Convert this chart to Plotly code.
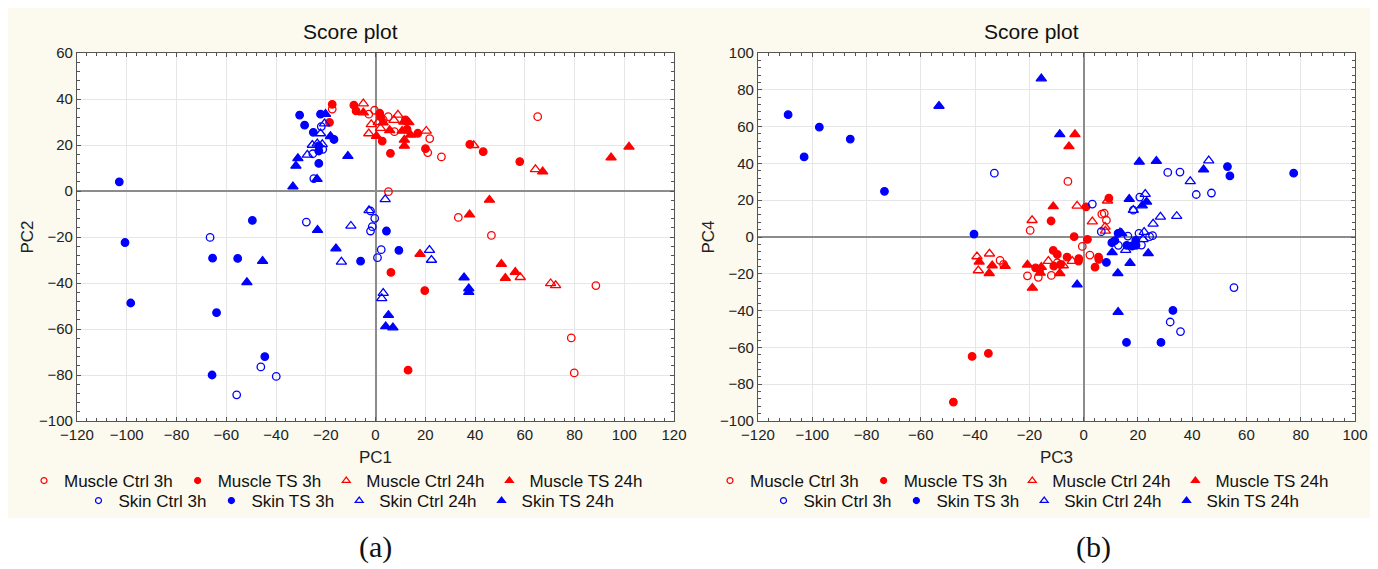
import plotly.graph_objects as go

# The page body has an 8 px default margin, so the figure is drawn 8 px smaller
# and every reference pixel position is shifted by OFF.
OFF = 8
W, H = 1378 - OFF, 569 - OFF

def px(x):
    return (x - OFF) / W

def py(y):
    return 1 - (y - OFF) / H

groups = ["Muscle Ctrl 3h", "Muscle TS 3h", "Muscle Ctrl 24h", "Muscle TS 24h",
          "Skin Ctrl 3h", "Skin TS 3h", "Skin Ctrl 24h", "Skin TS 24h"]

# ---------------- Panel (a): PC1 vs PC2 ----------------
a_muscle_ctrl_3h_x = [5.2, 33.3, 46.6, 88.6, 78.7, 79.9, 65.2, 26.5, 21.8, 21.0, -0.4, 3.1, 5.1, 7.6, -17.4, -2.7]
a_muscle_ctrl_3h_y = [-0.3, -11.5, -19.3, -41.1, -63.9, -79.1, 32.3, 14.8, 22.8, 16.7, 35.1, 30.9, 32.3, 25.8, 35.6, 33.4]

a_muscle_ts_3h_x = [-17.4, -18.5, -8.7, -7.8, 1.7, 2.0, 12.0, 12.7, 17.0, 2.7, 6.0, 20.1, 37.9, 43.3, 58.0, 6.2, 19.8, 13.1]
a_muscle_ts_3h_y = [37.7, 29.8, 37.3, 34.8, 33.8, 32.3, 30.9, 26.8, 25.1, 21.7, 16.4, 18.4, 20.3, 17.1, 12.8, -35.4, -43.3, -77.9]

a_muscle_ctrl_24h_x = [-4.9, -1.7, -2.7, 1.1, 2.0, 7.4, 9.0, 20.4, 39.5, 64.3, 58.2, 70.4, 72.4]
a_muscle_ctrl_24h_y = [38.0, 29.0, 25.0, 29.9, 27.3, 30.8, 33.1, 26.1, 19.9, 9.4, -37.5, -40.2, -41.0]

a_muscle_ts_24h_x = [-4.9, 3.1, 5.7, 11.4, 13.4, 10.7, 14.1, 11.6, 11.6, 0.4, 67.2, 94.7, 101.9, 45.8, 37.8, 17.9, 50.6, 52.2, 56.2]
a_muscle_ts_24h_y = [34.1, 29.7, 26.4, 30.1, 29.8, 26.1, 24.4, 22.2, 19.6, 23.9, 8.4, 14.5, 19.2, -3.9, -10.3, -27.4, -31.8, -37.9, -35.3]

a_skin_ctrl_3h_x = [-66.5, -46.1, -39.9, -55.8, -27.8, -2.0, -0.3, -1.3, -2.0, 2.3, 0.8, -21.8, -25.2, -24.8, -21.2]
a_skin_ctrl_3h_y = [-20.2, -76.5, -80.6, -88.6, -13.5, -8.7, -11.9, -15.5, -17.4, -25.5, -29.0, 28.0, 16.2, 5.4, 18.1]

a_skin_ts_3h_x = [-103.0, -49.5, -100.7, -65.5, -55.4, -98.4, -63.9, -44.5, -65.7, -6.0, 4.4, 9.4, -30.5, -28.5, -25.0, -22.1, -16.7, -22.8, -22.8, -22.8]
a_skin_ts_3h_y = [4.0, -12.8, -22.4, -29.2, -29.3, -48.7, -52.9, -72.0, -80.0, -30.5, -17.4, -25.8, 33.0, 28.6, 25.5, 33.4, 22.4, 19.6, 17.4, 12.0]

a_skin_ctrl_24h_x = [-13.7, -9.9, -2.6, 3.9, 21.7, 22.5, 3.1, 2.5, -20.5, -22.1, -25.4, -27.4, -23.4, -21.4]
a_skin_ctrl_24h_y = [-30.8, -15.2, -8.4, -3.6, -25.7, -30.0, -44.4, -46.7, 29.3, 25.0, 20.0, 15.7, 20.6, 20.3]

a_skin_ts_24h_x = [-33.2, -32.0, -31.2, -23.3, -15.9, -45.4, -51.7, 35.6, 37.5, 37.5, 5.2, 4.1, 7.0, -20.1, -18.1, -11.1, -23.5]
a_skin_ts_24h_y = [1.9, 10.9, 14.2, -17.0, -25.0, -30.5, -39.7, -37.6, -42.4, -44.0, -54.0, -58.9, -59.4, 33.4, 23.8, 15.2, 5.2]

# ---------------- Panel (b): PC3 vs PC4 ----------------
b_muscle_ctrl_3h_x = [-5.8, -19.7, 6.7, 7.6, 8.4, -0.5, 2.3, -30.8, -29.5, -20.7, -16.7, -11.9, -9.7]
b_muscle_ctrl_3h_y = [30.2, 3.6, 12.4, 12.9, 9.1, -5.1, -9.8, -12.7, -14.9, -21.1, -21.9, -20.9, -14.0]

b_muscle_ts_3h_x = [-12.0, 0.9, 9.3, -3.5, 1.4, 5.5, 5.6, 4.2, -17.7, -16.2, -11.2, -9.7, -6.1, -1.8, -1.9, -8.5, -11.0, -41.1, -35.1, -48.0]
b_muscle_ts_3h_y = [8.7, 16.4, 21.1, 0.2, -1.3, -10.9, -12.2, -16.4, -16.8, -17.8, -7.3, -9.5, -10.9, -11.7, -13.1, -14.9, -15.8, -64.9, -63.3, -89.7]

b_muscle_ctrl_24h_x = [-2.4, 8.8, -19.0, 3.2, 7.9, 8.0, -39.3, -34.7, -38.8, -13.0, -4.2, -7.5]
b_muscle_ctrl_24h_y = [16.9, 19.7, 9.1, 8.4, 5.5, 3.3, -10.6, -9.1, -18.2, -13.1, -13.1, -15.5]

b_muscle_ts_24h_x = [-3.2, -5.4, -11.2, -38.5, -33.7, -34.8, -28.9, -20.7, -18.9, -15.6, -8.8, -16.0]
b_muscle_ts_24h_y = [55.8, 49.2, 16.6, -13.5, -15.5, -19.7, -15.8, -15.1, -27.7, -16.4, -19.7, -19.5]

b_skin_ctrl_3h_x = [-32.9, 3.2, 31.0, 35.5, 41.5, 47.1, 55.4, 31.9, 35.7, 20.7, 18.3, 6.5, 16.3, 20.4, 12.8, 21.3, 24.3, 25.4]
b_skin_ctrl_3h_y = [34.7, 17.9, 35.1, 35.3, 23.1, 23.9, -27.5, -46.2, -51.4, 21.7, 14.6, 2.9, 0.5, 2.0, -4.5, -4.4, 0.2, 0.7]

b_skin_ts_3h_x = [-108.9, -97.4, -86.0, -103.0, -73.4, -40.4, 53.0, 53.9, 77.4, 32.9, 15.8, 28.5, 8.4, 12.7, 10.4, 15.9, 19.2, 19.3, 17.8, 11.5]
b_skin_ts_3h_y = [66.5, 59.7, 53.2, 43.5, 24.8, 1.6, 38.3, 33.2, 34.7, -39.9, -57.3, -57.3, -13.8, 2.0, -3.1, -4.5, -1.8, -4.5, -4.9, -2.0]

b_skin_ctrl_24h_x = [46.1, 39.3, 22.7, 18.3, 28.3, 34.3, 25.6, 13.4, 22.3, 15.5, 21.9]
b_skin_ctrl_24h_y = [41.5, 30.2, 23.3, 14.6, 10.9, 11.3, 7.1, 2.4, 2.7, -7.1, -1.3]

b_skin_ts_24h_x = [-53.3, -15.6, -8.8, 20.5, 26.8, 44.2, 16.8, 23.2, 21.6, 10.5, 17.1, 23.8, 12.6, -2.4, 12.7, 14.0]
b_skin_ts_24h_y = [71.2, 86.1, 55.8, 40.8, 41.2, 36.6, 20.6, 19.1, 17.1, -8.4, -14.2, -8.9, -19.7, -25.9, -40.8, 2.0]

panel_a = [
    (a_muscle_ctrl_3h_x, a_muscle_ctrl_3h_y), (a_muscle_ts_3h_x, a_muscle_ts_3h_y),
    (a_muscle_ctrl_24h_x, a_muscle_ctrl_24h_y), (a_muscle_ts_24h_x, a_muscle_ts_24h_y),
    (a_skin_ctrl_3h_x, a_skin_ctrl_3h_y), (a_skin_ts_3h_x, a_skin_ts_3h_y),
    (a_skin_ctrl_24h_x, a_skin_ctrl_24h_y), (a_skin_ts_24h_x, a_skin_ts_24h_y),
]
panel_b = [
    (b_muscle_ctrl_3h_x, b_muscle_ctrl_3h_y), (b_muscle_ts_3h_x, b_muscle_ts_3h_y),
    (b_muscle_ctrl_24h_x, b_muscle_ctrl_24h_y), (b_muscle_ts_24h_x, b_muscle_ts_24h_y),
    (b_skin_ctrl_3h_x, b_skin_ctrl_3h_y), (b_skin_ts_3h_x, b_skin_ts_3h_y),
    (b_skin_ctrl_24h_x, b_skin_ctrl_24h_y), (b_skin_ts_24h_x, b_skin_ts_24h_y),
]

RED = "#ff0000"
BLUE = "#0000ff"
styles = [
    (RED, "circle-open"), (RED, "circle"), (RED, "triangle-up-open"), (RED, "triangle-up"),
    (BLUE, "circle-open"), (BLUE, "circle"), (BLUE, "triangle-up-open"), (BLUE, "triangle-up"),
]

def msize(sym):
    return 7.5 if sym.startswith("circle") else 9

fig = go.Figure()

for panel, xa, ya, legs in [(panel_a, "x", "y", ("legend", "legend2")),
                            (panel_b, "x2", "y2", ("legend3", "legend4"))]:
    for i, (xs, ys) in enumerate(panel):
        color, sym = styles[i]
        fig.add_trace(go.Scatter(
            x=xs, y=ys, mode="markers", xaxis=xa, yaxis=ya, showlegend=False,
            marker=dict(color=color, symbol=sym, size=msize(sym),
                        line=dict(color=color, width=1.3)),
            hoverinfo="x+y", name=groups[i]))
    # legend proxies (small symbols, as in the reference legend)
    for i in range(8):
        color, sym = styles[i]
        fig.add_trace(go.Scatter(
            x=[None], y=[None], mode="markers", xaxis=xa, yaxis=ya,
            name=groups[i], legend=legs[0] if i < 4 else legs[1],
            marker=dict(color=color, symbol=sym, size=6 if sym.startswith("circle") else 7,
                        line=dict(color=color, width=1.2))))

FONT = "Liberation Sans, Arial, sans-serif"
AX = "#555555"

def axis(domain, rng, title, anchor, standoff):
    return dict(
        domain=domain, range=rng, dtick=20, tick0=0, anchor=anchor, automargin=False,
        showgrid=True, gridcolor="#e6e6e6", gridwidth=1,
        zeroline=True, zerolinecolor="#8c8c8c", zerolinewidth=1.5,
        showline=True, linecolor=AX, linewidth=1.2, mirror="allticks",
        ticks="inside", ticklen=4, tickcolor=AX, tickwidth=1,
        minor=dict(dtick=4, ticks="inside", ticklen=3, tickcolor=AX, tickwidth=1, showgrid=False),
        tickfont=dict(family=FONT, size=15, color="#222"),
        title=dict(text=title, font=dict(family=FONT, size=17, color="#222"), standoff=standoff),
        fixedrange=True,
    )

ydom = [py(421), py(53)]
xdom_a = [px(77), px(674)]
xdom_b = [px(758), px(1355)]
fig.update_layout(
    width=W, height=H, margin=dict(l=0, r=0, t=0, b=0, autoexpand=False),
    paper_bgcolor="white", plot_bgcolor="white",
    xaxis=axis(xdom_a, [-120, 120], "PC1", "y", 9),
    yaxis=axis(ydom, [-100, 60], "PC2", "x", 1),
    xaxis2=axis(xdom_b, [-120, 100], "PC3", "y2", 9),
    yaxis2=axis(ydom, [-100, 100], "PC4", "x2", 1),
    shapes=[
        dict(type="rect", xref="paper", yref="paper", x0=px(8), x1=px(1370),
             y0=py(518), y1=py(8), fillcolor="#fcf9ee", line=dict(width=0), layer="below"),
        dict(type="rect", xref="paper", yref="paper", x0=xdom_a[0], x1=xdom_a[1],
             y0=ydom[0], y1=ydom[1], fillcolor="white", line=dict(width=0), layer="below"),
        dict(type="rect", xref="paper", yref="paper", x0=xdom_b[0], x1=xdom_b[1],
             y0=ydom[0], y1=ydom[1], fillcolor="white", line=dict(width=0), layer="below"),
    ],
    annotations=[
        dict(text="Score plot", x=px(350), y=py(31), xref="paper", yref="paper",
             showarrow=False, font=dict(family=FONT, size=21, color="#111"), xanchor="center", yanchor="middle"),
        dict(text="Score plot", x=px(1032), y=py(31), xref="paper", yref="paper",
             showarrow=False, font=dict(family=FONT, size=21, color="#111"), xanchor="center", yanchor="middle"),
        dict(text="(a)", x=px(375), y=py(547), xref="paper", yref="paper",
             showarrow=False, font=dict(family="Liberation Serif, DejaVu Serif, serif", size=30, color="#111"),
             xanchor="center", yanchor="middle"),
        dict(text="(b)", x=px(1093), y=py(547), xref="paper", yref="paper",
             showarrow=False, font=dict(family="Liberation Serif, DejaVu Serif, serif", size=30, color="#111"),
             xanchor="center", yanchor="middle"),
    ],
)

def leg(xc, yc):
    return dict(orientation="h", x=px(xc), y=py(yc), xanchor="center", yanchor="middle",
                bgcolor="rgba(0,0,0,0)", font=dict(family=FONT, size=17, color="#111"),
                itemwidth=30, tracegroupgap=0, itemclick=False, itemdoubleclick=False)

fig.update_layout(
    legend=leg(336, 481), legend2=leg(349, 501),
    legend3=leg(1022, 481), legend4=leg(1034, 501),
)

fig.write_html("out.html")
